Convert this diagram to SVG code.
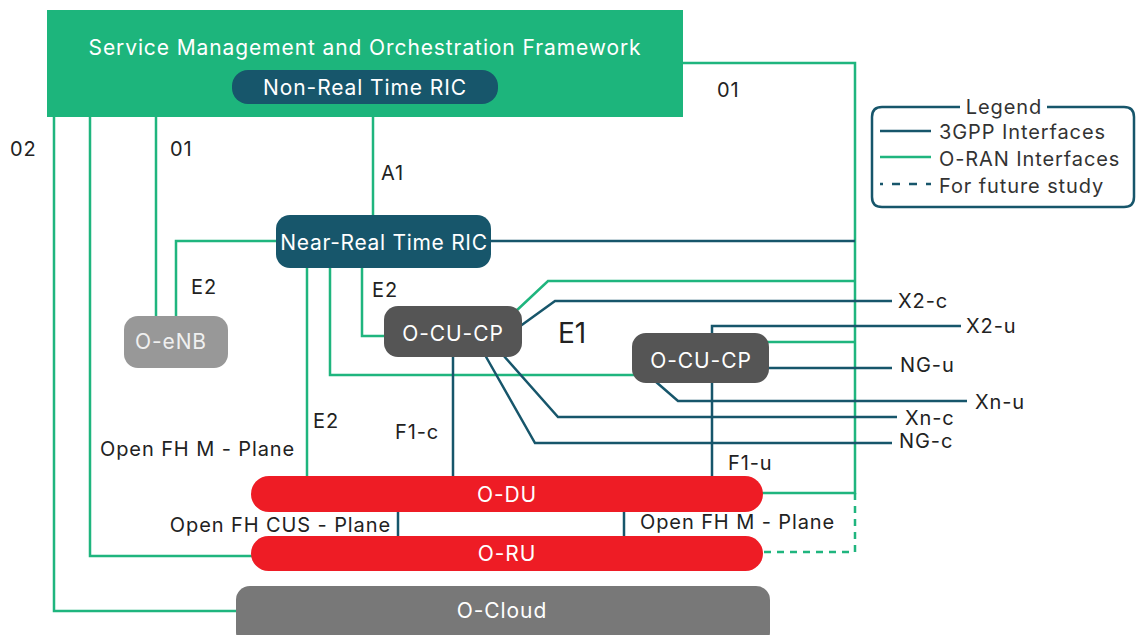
<svg xmlns="http://www.w3.org/2000/svg" width="1140" height="635" viewBox="0 0 1140 635">
<style>
text{font-family:Inter,"Open Sans","Liberation Sans",sans-serif;font-size:20px;letter-spacing:0.9px;fill:#222;dominant-baseline:central}
.w{fill:#fff;text-anchor:middle;font-size:21px}
.g{stroke:#1fb57e;stroke-width:2.5;fill:none}
.d{stroke:#17566b;stroke-width:2.5;fill:none}
.dash{stroke-dasharray:7 6}
.lg{fill:#333;font-size:20px}
</style>
<rect width="1140" height="635" fill="#fff"/>
<g id="connectors">
<path class="g" d="M683,63 H855 V493 H745"/>
<path class="g dash" d="M855,493 V552 H760"/>
<path class="g" d="M54,117 V611 H240"/>
<path class="g" d="M90,117 V556 H255"/>
<path class="g" d="M156,117 V320"/>
<path class="g" d="M373,117 V218"/>
<path class="g" d="M280,241 H176 V320"/>
<path class="g" d="M307,265 V480"/>
<path class="g" d="M330,265 V375 H636"/>
<path class="g" d="M362,265 V336 H388"/>
<path class="g" d="M515,312 L548,281 H855"/>
<path class="g" d="M765,342 H855"/>
<path class="d" d="M488,241 H855"/>
<path class="d" d="M519,327 L555,301 H892"/>
<path class="d" d="M712,480 V326 H961"/>
<path class="d" d="M765,368 H892"/>
<path class="d" d="M655,381 L678,401 H967"/>
<path class="d" d="M503,355 L558,417 H897"/>
<path class="d" d="M485,355 L535,443 H892"/>
<path class="d" d="M453,355 V480"/>
<path class="d" d="M398,510 V538"/>
<path class="d" d="M624,510 V538"/>
</g>
<g id="smo"><rect x="47" y="10" width="636" height="107" fill="#1db57c"/><text class="w" x="365" y="47">Service Management and Orchestration Framework</text></g>
<g id="nonrt-ric"><rect x="232" y="70" width="266" height="34" rx="16" fill="#17566b"/><text class="w" x="365" y="87">Non-Real Time RIC</text></g>
<g id="nearrt-ric"><rect x="276" y="215" width="215" height="53" rx="14" fill="#17566b"/><text class="w" x="384" y="242" style="letter-spacing:0.7px">Near-Real Time RIC</text></g>
<g id="o-enb"><rect x="124" y="316" width="104" height="52" rx="14" fill="#989898"/><text class="w" x="171" y="341" style="fill:#f0f0f0">O-eNB</text></g>
<g id="o-cu-cp-1"><rect x="384" y="306" width="138" height="51" rx="14" fill="#555"/><text class="w" x="453" y="333">O-CU-CP</text></g>
<g id="o-cu-cp-2"><rect x="632" y="333" width="137" height="50" rx="14" fill="#555"/><text class="w" x="701" y="360">O-CU-CP</text></g>
<g id="o-du"><rect x="251" y="476" width="512" height="36" rx="18" fill="#ee1c25"/><text class="w" x="507" y="494">O-DU</text></g>
<g id="o-ru"><rect x="251" y="536" width="512" height="35" rx="17.5" fill="#ee1c25"/><text class="w" x="507" y="553">O-RU</text></g>
<g id="o-cloud"><rect x="236" y="586" width="534" height="60" rx="14" fill="#787878"/><text class="w" x="502" y="610">O-Cloud</text></g>
<g id="labels">
<text x="10" y="149">02</text>
<text x="170" y="149">01</text>
<text x="381" y="173">A1</text>
<text x="717" y="90">01</text>
<text x="191" y="287">E2</text>
<text x="372" y="290">E2</text>
<text x="313" y="421">E2</text>
<text x="558" y="333" style="font-size:28px;letter-spacing:0">E1</text>
<text x="395" y="432">F1-c</text>
<text x="728" y="463">F1-u</text>
<text x="100" y="449">Open FH M - Plane</text>
<text x="391" y="525" text-anchor="end">Open FH CUS - Plane</text>
<text x="640" y="522">Open FH M - Plane</text>
<text x="898" y="301">X2-c</text>
<text x="966" y="326">X2-u</text>
<text x="900" y="365">NG-u</text>
<text x="975" y="402">Xn-u</text>
<text x="905" y="418">Xn-c</text>
<text x="899" y="441">NG-c</text>
</g>
<g id="legend">
<path class="d" d="M960,107 H882 Q872,107 872,117 V197 Q872,207 882,207 H1124 Q1134,207 1134,197 V117 Q1134,107 1124,107 H1047"/>
<text class="lg" x="1004" y="107" text-anchor="middle">Legend</text>
<path class="d" d="M880,131 H931"/>
<text class="lg" x="939" y="132">3GPP Interfaces</text>
<path class="g" d="M880,157 H931"/>
<text class="lg" x="939" y="159">O-RAN Interfaces</text>
<path class="d" d="M880,184 H931" style="stroke-dasharray:8 9;stroke-dashoffset:5"/>
<text class="lg" x="939" y="186">For future study</text>
</g>
</svg>
